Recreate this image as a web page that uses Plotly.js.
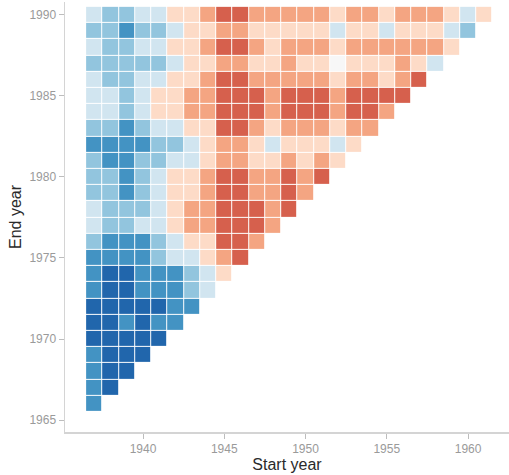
<!DOCTYPE html>
<html>
<head>
<meta charset="utf-8">
<script src="https://cdn.plot.ly/plotly-3.0.1.min.js"></script>
<style>
  html, body { margin: 0; padding: 0; background: #fff; }
  #chart { width: 509px; height: 475px; }
</style>
</head>
<body>
<div id="chart"></div>
<script>
// Start years (columns) and end years (rows)
const startYears = [1937,1938,1939,1940,1941,1942,1943,1944,1945,1946,1947,1948,1949,1950,1951,1952,1953,1954,1955,1956,1957,1958,1959,1960,1961];
const endYears = [1966,1967,1968,1969,1970,1971,1972,1973,1974,1975,1976,1977,1978,1979,1980,1981,1982,1983,1984,1985,1986,1987,1988,1989,1990];

// Trend class per cell (-4 strong cooling ... +3 strong warming), each row starts at 1937
const end1990 = [-1,-2,-2,-1,-1,1,1,2,3,3,2,2,2,2,2,1,2,2,1,2,2,2,1,-1,1];
const end1989 = [-2,-2,-3,-2,-2,-1,1,1,2,2,1,1,1,1,1,-1,1,1,-1,1,1,1,-1,-2];
const end1988 = [-1,-2,-2,-1,-1,1,1,2,3,3,2,1,2,2,2,1,2,2,2,2,2,2,1];
const end1987 = [-2,-2,-2,-2,-2,-1,1,1,2,2,1,1,2,1,1,0,1,1,1,2,1,-1];
const end1986 = [-1,-2,-2,-1,-1,1,1,2,3,3,2,2,2,2,2,1,2,2,1,2,3];
const end1985 = [-1,-1,-2,-1,1,1,2,2,3,3,3,2,3,3,3,2,3,3,3,3];
const end1984 = [-1,-1,-2,-1,1,1,2,2,3,3,3,2,3,3,3,2,3,3,2];
const end1983 = [-2,-2,-3,-2,-1,-1,1,1,3,3,2,1,2,2,2,1,2,2];
const end1982 = [-3,-3,-3,-3,-2,-2,-1,1,2,2,1,-1,1,1,1,-1,1];
const end1981 = [-2,-3,-3,-2,-2,-1,-1,1,2,2,1,1,2,1,2,1];
const end1980 = [-2,-2,-3,-2,-1,1,1,2,3,3,2,2,3,2,3];
const end1979 = [-2,-2,-3,-2,-1,1,1,2,3,3,2,2,3,2];
const end1978 = [-1,-2,-2,-2,-1,1,2,2,3,3,3,2,3];
const end1977 = [-1,-2,-2,-1,-1,1,2,2,3,3,3,2];
const end1976 = [-2,-3,-3,-3,-2,-1,1,1,3,3,2];
const end1975 = [-3,-3,-3,-3,-2,-1,-1,1,2,3];
const end1974 = [-3,-4,-4,-3,-3,-3,-2,-1,1];
const end1973 = [-3,-4,-4,-3,-3,-3,-2,-1];
const end1972 = [-4,-4,-4,-4,-4,-3,-3];
const end1971 = [-4,-4,-3,-4,-3,-3];
const end1970 = [-4,-4,-4,-4,-4];
const end1969 = [-3,-4,-4,-4];
const end1968 = [-3,-4,-4];
const end1967 = [-3,-4];
const end1966 = [-3];

const rowsBottomUp = [end1966,end1967,end1968,end1969,end1970,end1971,end1972,end1973,end1974,end1975,
  end1976,end1977,end1978,end1979,end1980,end1981,end1982,end1983,end1984,end1985,
  end1986,end1987,end1988,end1989,end1990];

const classColors = ['#2166ac','#4393c3','#92c5de','#d1e5f0','#f7f7f7','#fddbc7','#f4a582','#d6604d'];

// build z matrix (nulls outside the triangle)
const z = rowsBottomUp.map(row => startYears.map((s, i) => (i < row.length ? row[i] : null)));

// discrete colorscale
const n = classColors.length;
const colorscale = [];
classColors.forEach((c, k) => {
  colorscale.push([k / n, c]);
  colorscale.push([(k + 1) / n, c]);
});

const trace = {
  type: 'heatmap',
  x: startYears,
  y: endYears,
  z: z,
  zmin: -4.5,
  zmax: 3.5,
  colorscale: colorscale,
  showscale: false,
  xgap: 1,
  ygap: 1,
  hoverongaps: false
};

const axisCommon = {
  showgrid: false,
  zeroline: false,
  showline: true,
  linecolor: '#d4d4d4',
  linewidth: 1.5,
  ticks: 'outside',
  ticklen: 5,
  tickwidth: 1,
  tickcolor: '#bdbdbd',
  tickfont: { family: 'Liberation Sans, Arial, sans-serif', size: 12, color: '#9a9a9a' },
  dtick: 5,
  tick0: 1940
};

const layout = {
  width: 509,
  height: 475,
  margin: { l: 65, r: 0, t: 2, b: 43 },
  paper_bgcolor: '#ffffff',
  plot_bgcolor: '#ffffff',
  xaxis: Object.assign({}, axisCommon, {
    range: [1935.2, 1962.52],
    title: { text: 'Start year', font: { family: 'Liberation Sans, Arial, sans-serif', size: 16, color: '#2a2a2a' }, standoff: 3 }
  }),
  yaxis: Object.assign({}, axisCommon, {
    range: [1964.26, 1990.8],
    tick0: 1965,
    title: { text: 'End year', font: { family: 'Liberation Sans, Arial, sans-serif', size: 16, color: '#2a2a2a' }, standoff: 4 }
  }),
  showlegend: false
};

Plotly.newPlot('chart', [trace], layout, { displayModeBar: false, staticPlot: true });
</script>
</body>
</html>
